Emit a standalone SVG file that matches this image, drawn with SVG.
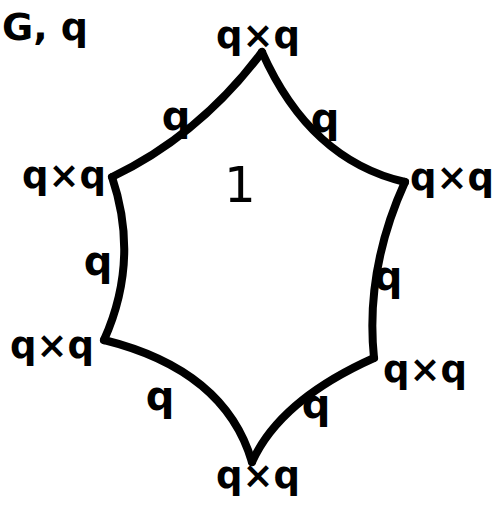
<svg xmlns="http://www.w3.org/2000/svg" width="504" height="517" viewBox="0 0 504 517">
<style>
.e{fill:none;stroke:#000;stroke-width:8;stroke-linecap:round;stroke-linejoin:round}
.t{font-family:"DejaVu Sans",sans-serif;font-weight:bold;fill:#000;text-anchor:middle}
.v{font-size:37px}
.l{font-size:40px}
</style>
<rect width="504" height="517" fill="#fff"/>
<text class="t" x="2" y="40" style="font-size:38px;text-anchor:start">G, q</text>
<g id="connectors">
<path class="e" d="M262,52 Q200,135 112,177"/>
<path class="e" d="M262,52 Q310,160 405,182"/>
<path class="e" d="M405,182 Q365,270 374,358"/>
<path class="e" d="M374,358 Q280,400 252,462"/>
<path class="e" d="M104,340 Q225,370 252,462"/>
<path class="e" d="M112,177 Q140,260 104,340"/>
</g>
<g id="n-top"><text class="t v" x="258" y="48">q×q</text></g>
<g id="n-ul"><text class="t v" x="64" y="188">q×q</text></g>
<g id="n-ur"><text class="t v" x="452" y="190">q×q</text></g>
<g id="n-ll"><text class="t v" x="52" y="358">q×q</text></g>
<g id="n-lr"><text class="t v" x="425" y="382">q×q</text></g>
<g id="n-bot"><text class="t v" x="258" y="488">q×q</text></g>
<g id="labels">
<text class="t l" x="176" y="130">q</text>
<text class="t l" x="325" y="132">q</text>
<text class="t l" x="98" y="275">q</text>
<text class="t l" x="388" y="290">q</text>
<text class="t l" x="160" y="410">q</text>
<text class="t l" x="316" y="418">q</text>
<text class="t" x="240" y="202" style="font-size:50px;font-weight:normal">1</text>
</g>
</svg>
